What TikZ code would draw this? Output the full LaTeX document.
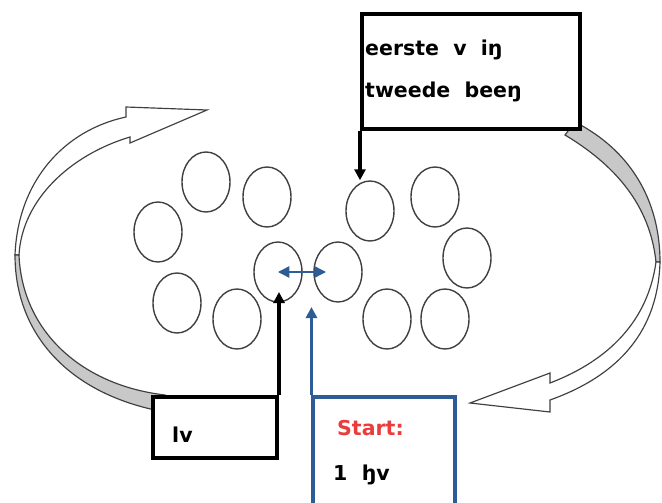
\documentclass[tikz,border=0pt]{standalone}
\usepackage{fontspec}
\setmainfont{DejaVu Sans}
\usetikzlibrary{shapes.geometric,arrows.meta}
\definecolor{startblue}{RGB}{46,92,150}
\definecolor{startred}{RGB}{235,60,60}
\definecolor{bandgray}{RGB}{200,200,200}

\begin{document}
\begin{tikzpicture}[x=0.03cm, y=-0.03cm,
    cell/.style={draw=black!75, line width=1.2pt, ellipse, minimum width=1.44cm, minimum height=1.8cm, inner sep=0pt},
    box/.style={draw, line width=3.4pt, fill=white, inner sep=0pt},
    txt/.style={font=\bfseries\fontsize{17.5}{21}\selectfont, inner sep=0pt, anchor=base west},
    band/.style={draw=black!75, line width=1pt},
    blackarrow/.style={line width=3pt, -{Triangle[width=0.33cm, length=0.33cm]}},
    bluearrow/.style={draw=startblue, line width=2.6pt, -{Triangle[width=0.33cm, length=0.33cm]}}]
    \useasboundingbox (0,0) rectangle (662,503);

    \draw[band, fill=white] (15,255) .. controls (18,180) and (65,130) .. (126,117) -- (126,107) -- (207,110) -- (130,143) -- (130,137) .. controls (70,155) and (22,200) .. (19,255) -- cycle;
    \draw[band, fill=bandgray] (15,255) .. controls (15,335) and (70,395) .. (165,412) -- (165,395) .. controls (80,385) and (22,330) .. (19,255) -- cycle;
    \draw[band, fill=bandgray] (565,135) .. controls (615,165) and (650,205) .. (656,262) -- (660,262) .. controls (660,200) and (630,150) .. (575,122) -- cycle;
    \draw[band, fill=white] (660,262) .. controls (658,330) and (620,375) .. (550,400) -- (550,412) -- (470,403) -- (550,373) -- (550,383) .. controls (610,360) and (648,320) .. (656,262) -- cycle;

    \foreach \name/\x/\y in {e1/206/182, e2/267/197, e3/158/232, e4/278/272, e5/338/272, e6/177/303,
                             e7/237/319, e8/370/211, e9/435/197, e10/467/258, e11/387/319, e12/445/319}
        \node[cell] (\name) at (\x,\y) {};

    \node[box, minimum width=6.54cm, minimum height=3.45cm] (topbox) at (471,71.5) {};
    \node[box, minimum width=3.72cm, minimum height=1.83cm] (leftbox) at (215,427.5) {};
    \node[box, draw=startblue, line width=2.6pt, minimum width=4.26cm, minimum height=3.39cm] (startbox) at (384,453.5) {};

    \node[txt] (firstline) at (365,55) {eerste\ \ v\ \ iŋ};
    \node[txt] (secondline) at (365,97) {tweede\ \ beeŋ};
    \node[txt] (lefttext) at (172,442) {lv};
    \node[txt, text=startred] (starttext) at (337,435) {Start:};
    \node[txt] (phototext) at (333,480) {1\ \ ꜧv};

    \coordinate (hitleft) at (277,292);
    \coordinate (hitstart) at (313,307);
    \draw[blackarrow] (topbox.south west) -- (topbox.south west |- e8.north);
    \draw[blackarrow] (leftbox.north east) -- (leftbox.north east |- hitleft);
    \draw[bluearrow] (startbox.north west) -- (startbox.north west |- hitstart);
    \draw[startblue, line width=1.3pt, {Triangle[width=0.34cm, length=0.34cm]}-{Triangle[width=0.34cm, length=0.34cm]}, shorten >=0.36cm] (e4.center) -- (e5.center);
\end{tikzpicture}
\end{document}
